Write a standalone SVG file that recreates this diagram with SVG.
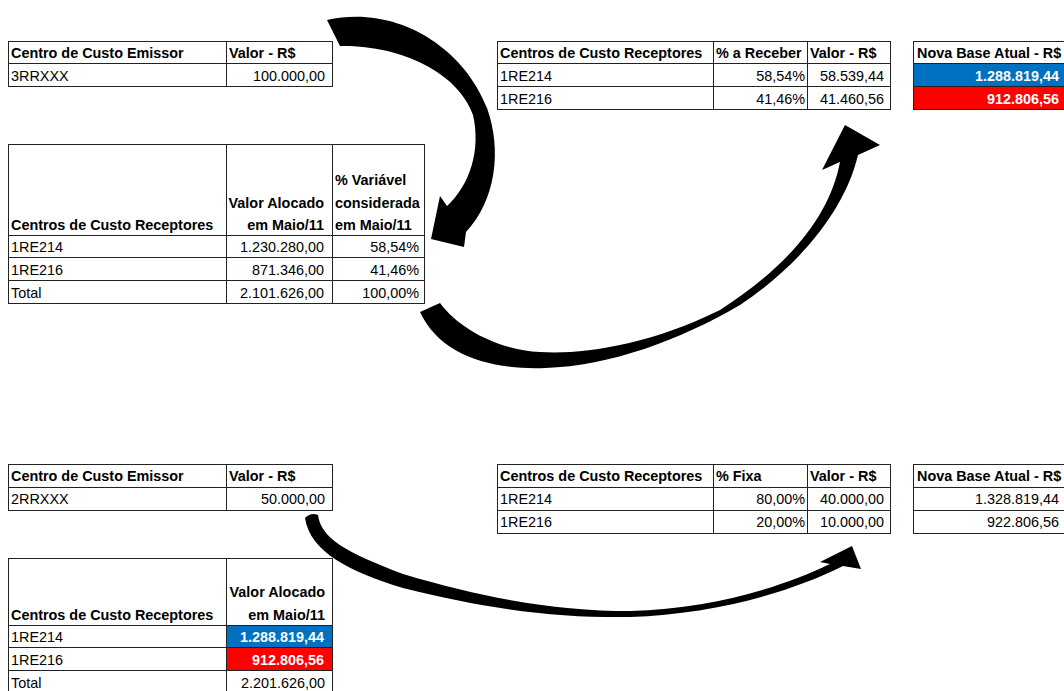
<svg xmlns="http://www.w3.org/2000/svg" width="1064" height="691" viewBox="0 0 1064 691">
<style>
text{font-family:"Liberation Sans",Arial,sans-serif;font-size:14.4px;fill:#000}
.b{font-weight:bold}
.r{text-anchor:end}
.w{fill:#fff;font-weight:bold}
.g{stroke:#222;stroke-width:1;fill:none}
.blue{fill:#0070C0}
.red{fill:#FF0000}
.arrow{fill:#000;stroke:none}
</style>
<rect width="1064" height="691" fill="#fff"/>

<g id="emissor-1">
<rect class="g" x="8.5" y="41.5" width="324" height="45"/>
<path class="g" d="M8.5 63.5H332.5M226.5 41.5V86.5"/>
<text class="b" x="11" y="57.5">Centro de Custo Emissor</text>
<text class="b" x="229" y="57.5">Valor - R$</text>
<text x="11" y="80.5">3RRXXX</text>
<text class="r" x="325" y="80.5">100.000,00</text>
</g>

<g id="variavel-maio">
<rect class="g" x="8.5" y="144.5" width="416" height="159"/>
<path class="g" d="M8.5 235.5H424.5M8.5 257.5H424.5M8.5 280.5H424.5M226.5 144.5V303.5M332.5 144.5V303.5"/>
<text class="b" x="335" y="185">% Variável</text>
<text class="b r" x="324" y="207.5">Valor Alocado</text>
<text class="b" x="335" y="207.5">considerada</text>
<text class="b" x="11" y="229.5">Centros de Custo Receptores</text>
<text class="b r" x="324" y="229.5">em Maio/11</text>
<text class="b" x="335" y="229.5">em Maio/11</text>
<text x="11" y="251.5">1RE214</text>
<text class="r" x="324" y="251.5">1.230.280,00</text>
<text class="r" x="419" y="251.5">58,54%</text>
<text x="11" y="274.5">1RE216</text>
<text class="r" x="324" y="274.5">871.346,00</text>
<text class="r" x="419" y="274.5">41,46%</text>
<text x="11" y="297.5">Total</text>
<text class="r" x="324" y="297.5">2.101.626,00</text>
<text class="r" x="419" y="297.5">100,00%</text>
</g>

<g id="receber-var">
<rect class="g" x="497.5" y="41.5" width="393" height="68"/>
<path class="g" d="M497.5 63.5H890.5M497.5 86.5H890.5M713.5 41.5V109.5M807.5 41.5V109.5"/>
<text class="b" x="500" y="57.5">Centros de Custo Receptores</text>
<text class="b" x="716" y="57.5">% a Receber</text>
<text class="b" x="810" y="57.5">Valor - R$</text>
<text x="500" y="80.5">1RE214</text>
<text class="r" x="805" y="80.5">58,54%</text>
<text class="r" x="884" y="80.5">58.539,44</text>
<text x="500" y="103.5">1RE216</text>
<text class="r" x="805" y="103.5">41,46%</text>
<text class="r" x="884" y="103.5">41.460,56</text>
</g>

<g id="novabase-1">
<rect class="blue" x="913.5" y="63.5" width="160" height="23"/>
<rect class="red" x="913.5" y="86.5" width="160" height="23"/>
<rect class="g" x="913.5" y="41.5" width="160" height="68"/>
<path class="g" d="M913.5 63.5H1073.5M913.5 86.5H1073.5"/>
<text class="b" x="917" y="57.5">Nova Base Atual - R$</text>
<text class="w r" x="1059" y="80.5">1.288.819,44</text>
<text class="w r" x="1059" y="103.5">912.806,56</text>
</g>

<g id="emissor-2">
<rect class="g" x="8.5" y="464.5" width="324" height="46"/>
<path class="g" d="M8.5 487.5H332.5M226.5 464.5V510.5"/>
<text class="b" x="11" y="480.5">Centro de Custo Emissor</text>
<text class="b" x="229" y="480.5">Valor - R$</text>
<text x="11" y="503.5">2RRXXX</text>
<text class="r" x="325" y="503.5">50.000,00</text>
</g>

<g id="receber-fixa">
<rect class="g" x="497.5" y="464.5" width="393" height="69"/>
<path class="g" d="M497.5 487.5H890.5M497.5 510.5H890.5M713.5 464.5V533.5M807.5 464.5V533.5"/>
<text class="b" x="500" y="480.5">Centros de Custo Receptores</text>
<text class="b" x="716" y="480.5">% Fixa</text>
<text class="b" x="810" y="480.5">Valor - R$</text>
<text x="500" y="503.5">1RE214</text>
<text class="r" x="805" y="503.5">80,00%</text>
<text class="r" x="884" y="503.5">40.000,00</text>
<text x="500" y="526.5">1RE216</text>
<text class="r" x="805" y="526.5">20,00%</text>
<text class="r" x="884" y="526.5">10.000,00</text>
</g>

<g id="novabase-2">
<rect class="g" x="913.5" y="464.5" width="160" height="69"/>
<path class="g" d="M913.5 487.5H1073.5M913.5 510.5H1073.5"/>
<text class="b" x="917" y="480.5">Nova Base Atual - R$</text>
<text class="r" x="1059" y="503.5">1.328.819,44</text>
<text class="r" x="1059" y="526.5">922.806,56</text>
</g>

<g id="alocado-maio">
<rect class="blue" x="226.5" y="625.5" width="106" height="22"/>
<rect class="red" x="226.5" y="647.5" width="106" height="23"/>
<rect class="g" x="8.5" y="558.5" width="324" height="145"/>
<path class="g" d="M8.5 625.5H332.5M8.5 647.5H332.5M8.5 670.5H332.5M226.5 558.5V703.5"/>
<text class="b r" x="325" y="597">Valor Alocado</text>
<text class="b" x="11" y="619.5">Centros de Custo Receptores</text>
<text class="b r" x="325" y="619.5">em Maio/11</text>
<text x="11" y="641.5">1RE214</text>
<text class="w r" x="324" y="641.5">1.288.819,44</text>
<text x="11" y="664.5">1RE216</text>
<text class="w r" x="324" y="664.5">912.806,56</text>
<text x="11" y="687.5">Total</text>
<text class="r" x="325" y="687.5">2.201.626,00</text>
</g>

<g id="connectors">
<path class="arrow" d="M327 20 C395 5 462 45 487 108 C502 150 496 200 466 232 L464 247 L431 239 L440 196 L447 206 C470 185 481 150 473 115 C458 72 400 45 340 46 Z"/>
<path class="arrow" d="M420 312 C440 355 490 370 545 368 C610 366 680 340 740 305 C800 265 845 210 858 155 L880 145 L845 125 L822 170 L840 162 C830 215 790 265 720 310 C650 345 580 355 540 352 C500 350 460 330 440 303 Z"/>
<path class="arrow" d="M305 518 Q311 512 318 515 C321 538 345 552 403 574 C490 600 560 611 630 611 C710 609 780 588 830 564 L820 562 L852 546 L861 569 L843 566 C785 595 710 614 630 617 C560 618 490 610 403 588 C350 572 310 552 305 518 Z"/>
</g>
</svg>
